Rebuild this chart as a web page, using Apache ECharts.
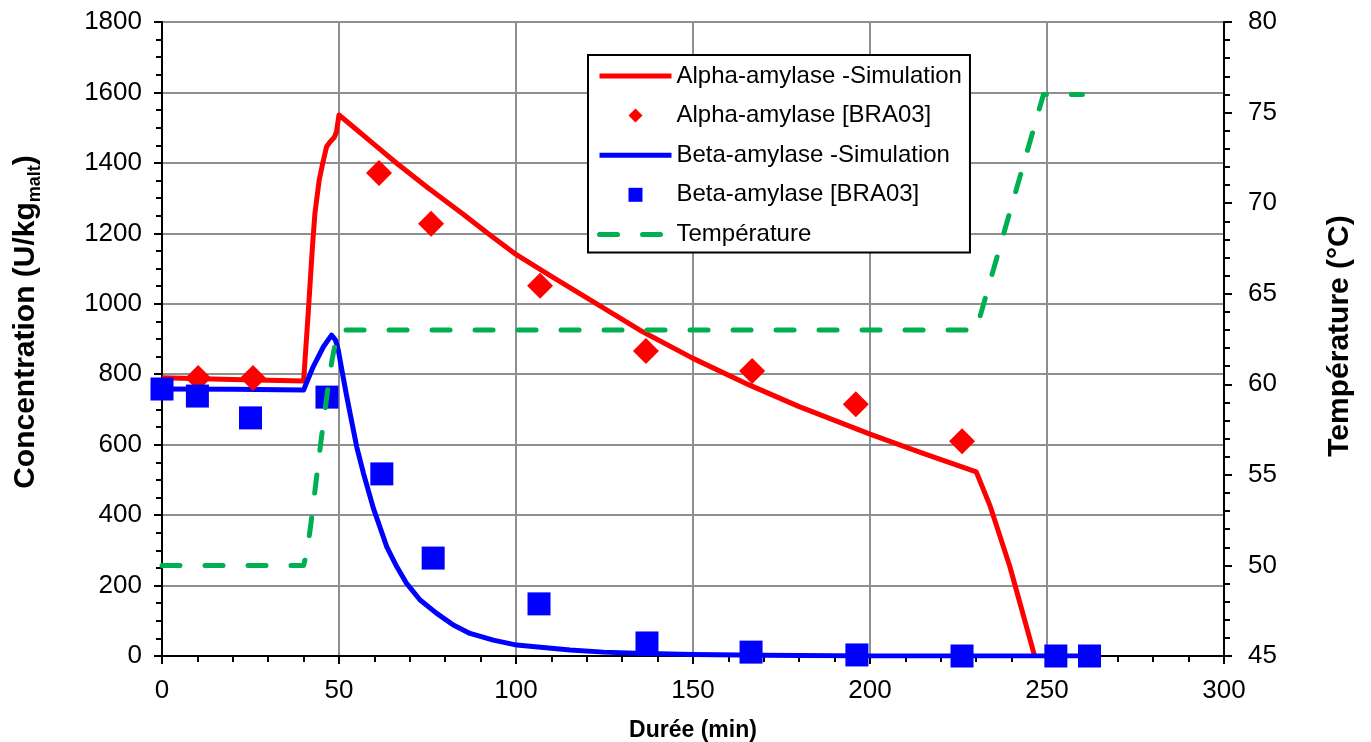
<!DOCTYPE html>
<html>
<head>
<meta charset="utf-8">
<script src="https://cdn.jsdelivr.net/npm/echarts@6/dist/echarts.min.js"></script>
<style>
html,body{margin:0;padding:0;background:#fff;}
#chart{width:1371px;height:742px;}
</style>
</head>
<body>
<div id="chart"></div>
<script>
// ---- data ----
const alphaSimT = [0, 20, 40, 41.3, 42.5, 43.2, 44.4, 45.4, 46.5, 47.5, 48.7, 49.3, 50, 55, 60, 66.3, 75, 85, 92, 100, 110, 122.8, 135, 150, 166, 180, 200, 215, 230, 234, 239.5, 246.5];
const alphaSimV = [790, 785, 781, 973, 1162, 1257, 1351, 1399, 1446, 1460, 1473, 1489, 1536, 1494, 1452, 1399, 1330, 1255, 1200, 1140, 1078, 1000, 925, 845, 769, 708, 630, 575, 523, 424, 254, 0];

const alphaExpT = [10.2, 25.7, 61.3, 76.0, 106.8, 136.7, 166.7, 196.0, 226.0];
const alphaExpV = [789, 789, 1371, 1227, 1051, 866, 809, 715, 610];

const betaSimT = [0, 20, 40, 42.7, 45.6, 47.9, 49, 49.8, 50.8, 52.2, 53.6, 55, 56.9, 59.7, 63.5, 66.3, 69.1, 72.9, 77.6, 82.3, 87, 93.6, 100.2, 107.7, 115.3, 124.7, 134, 150, 170, 200, 262];
const betaSimV = [758, 757, 755, 821, 878, 911, 897, 869, 812, 736, 665, 594, 519, 420, 310, 254, 206, 159, 121, 88, 64, 45, 31, 24, 17, 11, 8, 4, 2, 0, 0];

const betaExpT = [0, 10, 25, 46.6, 62.1, 76.6, 106.5, 137.0, 166.4, 196.3, 226.0, 252.5, 262.0];
const betaExpV = [758, 738, 676, 735, 517, 278, 148, 37, 11, 3, 0, 0, 0];

const tempT = [0, 40, 41, 42, 43, 44, 45, 46, 47, 48, 49, 50, 230, 249, 260];
const tempV = [50, 50, 50.8, 52.2, 53.8, 55.4, 57, 58.5, 60, 61.3, 62.3, 63, 63, 76, 76];

const seriesNames = ['Alpha-amylase -Simulation', 'Alpha-amylase [BRA03]', 'Beta-amylase -Simulation', 'Beta-amylase [BRA03]', 'Température'];
const xTitle = 'Durée (min)';
const yTitleLeft = '{a|Concentration (U/kg}{b|malt}{a|)}';
const yTitleRight = 'Température (°C)';

function pairs(t, v) { return t.map((x, i) => [x, v[i]]); }

const FONT = '"Liberation Sans", Arial, Helvetica, sans-serif';
const gridColor = '#8f8f8f';
const DIAMOND = 'path://M0,-1L1,0L0,1L-1,0Z';
const SQUARE = 'path://M0,0L1,0L1,1L0,1Z';

const chart = echarts.init(document.getElementById('chart'), null, {renderer: 'canvas'});
const option = {
  animation: false,
  backgroundColor: '#ffffff',
  textStyle: {fontFamily: FONT},
  grid: {left: 162, right: 147, top: 22, bottom: 86, containLabel: false, outerBoundsMode: 'none'},
  legend: {
    orient: 'vertical',
    left: 588, top: 55,
    itemWidth: 72, itemHeight: 14, itemGap: 15.6,
    padding: [9, 8, 6, 9],
    backgroundColor: '#ffffff',
    borderColor: '#000000', borderWidth: 2,
    selectedMode: false,
    symbolKeepAspect: true,
    textStyle: {fontFamily: FONT, fontSize: 24, color: '#000', lineHeight: 24},
    lineStyle: {width: 5},
    data: [
      {name: seriesNames[0], itemStyle: {opacity: 0}},
      {name: seriesNames[1], icon: DIAMOND},
      {name: seriesNames[2], itemStyle: {opacity: 0}},
      {name: seriesNames[3], icon: SQUARE},
      {name: seriesNames[4], itemStyle: {opacity: 0}}
    ]
  },
  xAxis: {
    type: 'value', min: 0, max: 300, interval: 50,
    name: xTitle, nameLocation: 'middle', nameGap: 63,
    nameTextStyle: {fontFamily: FONT, fontSize: 23, fontWeight: 'bold', color: '#000'},
    axisLine: {show: true, onZero: false, lineStyle: {color: '#000', width: 2}},
    axisTick: {show: true, inside: false, length: 8, lineStyle: {color: '#000', width: 2}},
    minorTick: {show: true, splitNumber: 5, length: 6, lineStyle: {color: '#000', width: 2}},
    axisLabel: {fontFamily: FONT, fontSize: 26, color: '#000', margin: 22, formatter: v => String(v)},
    splitLine: {show: true, lineStyle: {color: gridColor, width: 2}}
  },
  yAxis: [
    {
      type: 'value', min: 0, max: 1800, interval: 200, position: 'left',
      name: yTitleLeft, nameLocation: 'middle', nameGap: 118,
      nameTextStyle: {
        fontFamily: FONT, color: '#000', padding: [0, 0, 0, 34],
        rich: {
          a: {fontFamily: FONT, fontSize: 30, fontWeight: 'bold', color: '#000', lineHeight: 36},
          b: {fontFamily: FONT, fontSize: 18, fontWeight: 'bold', color: '#000', verticalAlign: 'bottom', lineHeight: 18}
        }
      },
      axisLine: {show: true, onZero: false, lineStyle: {color: '#000', width: 2}},
      axisTick: {show: true, inside: false, length: 8, lineStyle: {color: '#000', width: 2}},
      minorTick: {show: true, splitNumber: 4, length: 6, lineStyle: {color: '#000', width: 2}},
      axisLabel: {fontFamily: FONT, fontSize: 26, color: '#000', margin: 20, formatter: v => String(v)},
      splitLine: {show: true, lineStyle: {color: gridColor, width: 2}}
    },
    {
      type: 'value', min: 45, max: 80, interval: 5, position: 'right',
      name: yTitleRight, nameLocation: 'middle', nameGap: 101, nameRotate: 90,
      nameTextStyle: {fontFamily: FONT, fontSize: 30, fontWeight: 'bold', color: '#000', padding: [0, 0, 0, 6]},
      axisLine: {show: true, onZero: false, lineStyle: {color: '#000', width: 2}},
      axisTick: {show: true, inside: false, length: 8, lineStyle: {color: '#000', width: 2}},
      minorTick: {show: true, splitNumber: 5, length: 6, lineStyle: {color: '#000', width: 2}},
      axisLabel: {fontFamily: FONT, fontSize: 26, color: '#000', margin: 24, formatter: v => String(v)},
      splitLine: {show: false}
    }
  ],
  series: [
    {
      name: seriesNames[0], type: 'line', data: pairs(alphaSimT, alphaSimV),
      symbol: 'none', showSymbol: false, smooth: false, z: 2,
      itemStyle: {color: '#ff0000'},
      lineStyle: {color: '#ff0000', width: 5, join: 'round'}
    },
    {
      name: seriesNames[1], type: 'scatter', data: pairs(alphaExpT, alphaExpV),
      symbol: 'diamond', symbolSize: 26, z: 3,
      itemStyle: {color: '#ff0000', opacity: 1}
    },
    {
      name: seriesNames[2], type: 'line', data: pairs(betaSimT, betaSimV),
      symbol: 'none', showSymbol: false, smooth: false, z: 2,
      itemStyle: {color: '#0000ff'},
      lineStyle: {color: '#0000ff', width: 5, join: 'round'}
    },
    {
      name: seriesNames[3], type: 'scatter', data: pairs(betaExpT, betaExpV),
      symbol: 'rect', symbolSize: 23, z: 3,
      itemStyle: {color: '#0000ff', opacity: 1}
    },
    {
      name: seriesNames[4], type: 'line', yAxisIndex: 1, data: pairs(tempT, tempV),
      symbol: 'none', showSymbol: false, smooth: false, z: 4,
      itemStyle: {color: '#00b050'},
      lineStyle: {color: '#00b050', width: 5, type: [18, 25], cap: 'round', join: 'round'}
    }
  ]
};
chart.setOption(option);
</script>
</body>
</html>
